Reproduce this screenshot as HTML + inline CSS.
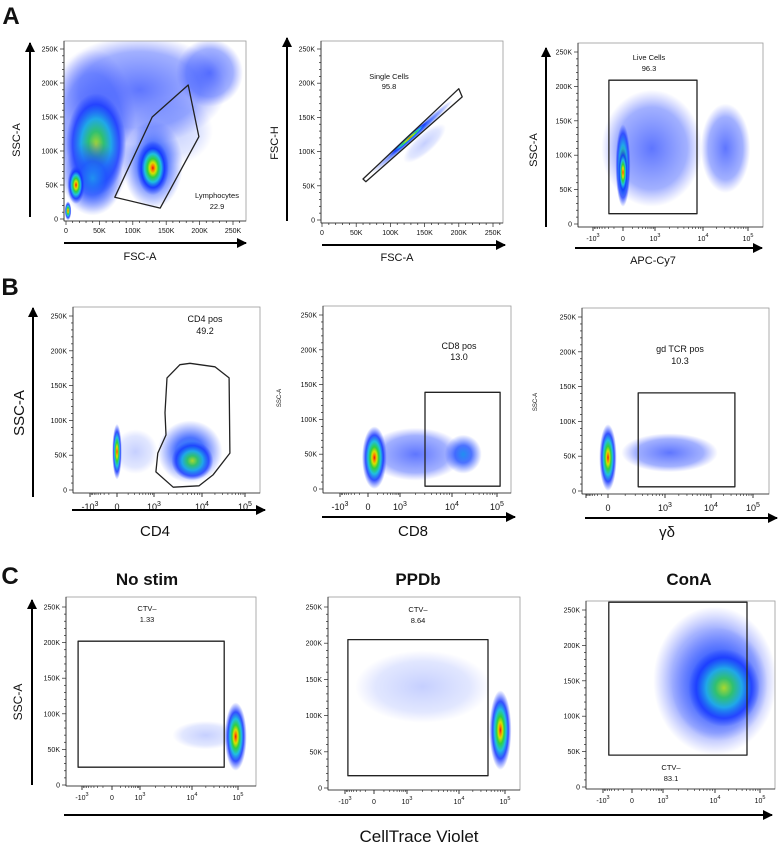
<!DOCTYPE html>
<html><head><meta charset="utf-8"><style>
html,body{margin:0;padding:0;background:#fff;}
svg{display:block;font-family:"Liberation Sans",sans-serif;}
</style></head><body>
<svg id="fig" width="778" height="844" viewBox="0 0 778 844" xmlns="http://www.w3.org/2000/svg">
<defs>
<radialGradient id="g-hot"><stop offset="0" stop-color="#e01010"/><stop offset="0.09" stop-color="#ff7a00"/><stop offset="0.2" stop-color="#d8e000"/><stop offset="0.34" stop-color="#30d040"/><stop offset="0.52" stop-color="#20c0e0"/><stop offset="0.72" stop-color="#1030ff" stop-opacity="0.85"/><stop offset="1" stop-color="#2040ff" stop-opacity="0"/></radialGradient>
<radialGradient id="g-warm"><stop offset="0" stop-color="#a8d830"/><stop offset="0.25" stop-color="#30c070"/><stop offset="0.5" stop-color="#20a8e8"/><stop offset="0.78" stop-color="#1838ff" stop-opacity="0.8"/><stop offset="1" stop-color="#2040ff" stop-opacity="0"/></radialGradient>
<radialGradient id="g-cool"><stop offset="0" stop-color="#2090f0"/><stop offset="0.45" stop-color="#2050ff" stop-opacity="0.8"/><stop offset="1" stop-color="#3050ff" stop-opacity="0"/></radialGradient>
<radialGradient id="g-haze"><stop offset="0" stop-color="#2040ff" stop-opacity="0.72"/><stop offset="0.7" stop-color="#3050ff" stop-opacity="0.45"/><stop offset="1" stop-color="#5060ff" stop-opacity="0"/></radialGradient>
<radialGradient id="g-sparse"><stop offset="0" stop-color="#4060ff" stop-opacity="0.3"/><stop offset="0.7" stop-color="#5070ff" stop-opacity="0.17"/><stop offset="1" stop-color="#6070ff" stop-opacity="0"/></radialGradient>
<marker id="arr" viewBox="0 0 10 10" refX="9" refY="5" markerWidth="5" markerHeight="5" orient="auto"><path d="M0,0 L10,5 L0,10 z" fill="#000"/></marker>
</defs>
<g id="root"></g>
</svg>
<script>
// ---- data: populations [x, y, spreadX, spreadY, density, angle] ; gates in data coords ----
const popsA1 = [[110,190,130,80,'haze',0],[40,130,65,120,'haze',0],[215,215,50,50,'haze',0],[160,130,60,50,'sparse',0],[45,110,45,75,'warm',0],[40,60,45,55,'cool',0],[15,50,13,28,'hot',0],[3,12,5,14,'hot',0],[130,80,45,65,'cool',0],[130,75,24,40,'hot',0]];
const gateA1 = [[73,32],[129,150],[183,197],[199,121],[141,16]];
const popsA2 = [[150,112,40,14,'sparse',-42],[132,122,80,6,'cool',-42],[128,120,40,3.5,'hot',-42]];
const gateA2 = [[60,60],[200,192],[205,180],[64,56]];
const popsA3 = [[0.9,110,1.3,85,'haze',0],[2.5,110,0.55,65,'haze',0],[0,85,0.24,60,'warm',0],[0,75,0.16,35,'hot',0]];
const gateA3 = [[-0.47,209],[1.875,209],[1.875,15],[-0.47,15]];
const popsB1 = [[0.5,55,0.6,32,'sparse',0],[0,55,0.15,40,'hot',0],[1.75,55,0.7,45,'cool',0],[1.8,42,0.45,28,'warm',0]];
const gateB1 = [[1.27,161],[1.54,180],[1.75,182],[2.30,177],[2.63,161],[2.65,53],[2.26,22],[1.94,6],[1.40,4],[1.04,26],[1.08,53],[1.25,79],[1.23,111]];
const popsB2 = [[1.3,50,1.1,38,'haze',0],[2.25,50,0.4,28,'cool',0],[0.2,45,0.4,45,'hot',0]];
const gateB2 = [[1.48,139],[3.07,139],[3.07,4],[1.48,4]];
const popsB3 = [[1.1,55,0.95,28,'haze',0],[0,48,0.22,48,'hot',0]];
const gateB3 = [[0.53,141],[2.57,141],[2.57,6],[0.53,6]];
const popsC1 = [[2.3,70,0.7,20,'sparse',0],[2.95,68,0.24,48,'hot',0]];
const gateC1 = [[-1.13,202],[2.7,202],[2.7,25],[-1.13,25]];
const popsC2 = [[1.3,140,1.6,50,'sparse',0],[2.9,80,0.24,55,'hot',0]];
const gateC2 = [[-0.9,205],[2.63,205],[2.63,17],[-0.9,17]];
const popsC3 = [[2.0,150,1.35,105,'haze',0],[2.1,145,1.0,80,'cool',0],[2.2,140,0.75,55,'warm',0]];
const gateC3 = [[-0.8,261],[2.71,261],[2.71,45],[-0.8,45]];
const linTicks = [0,50,100,150,200,250];
const linLabels = ['0','50K','100K','150K','200K','250K'];
const logTicks = [-1,0,1,2,3];
const logLabels = [['-10','3'],['0',''],['10','3'],['10','4'],['10','5']];

const NS='http://www.w3.org/2000/svg';
const root=document.getElementById('root');
function el(tag,attrs,parent){const e=document.createElementNS(NS,tag);for(const k in attrs)e.setAttribute(k,attrs[k]);(parent||root).appendChild(e);return e;}
function txt(parent,x,y,s,size,anchor,weight,name){const t=el('text',{x:x,y:y,'font-size':size,'text-anchor':anchor||'middle','font-weight':weight||'normal',fill:'#111'},parent);t.textContent=s;


return t;}

function panel(p,pops,gate,gateKind,name){
  const g=el('g',{});
  
  
  const ys=v=>p.y0+(p.y250-p.y0)*v/250;
  let xs;
  if(p.lin){xs=v=>p.x0+(p.x250-p.x0)*v/250;}
  else{const t=p.xt;xs=d=>{let i=Math.floor(d)+1;if(i<0)i=0;if(i>3)i=3;return t[i]+(t[i+1]-t[i])*(d-(i-1));};}
  const cp='clip-'+name;
  const c=el('clipPath',{id:cp},g);el('rect',{x:p.L,y:p.T,width:p.R-p.L,height:p.B-p.T},c);
  const dg=el('g',{'clip-path':'url(#'+cp+')'},g);
  
  
  pops.forEach(q=>{
    const cx=xs(q[0]),cy=ys(q[1]);
    const rx=Math.abs(xs(q[0]+q[2])-xs(q[0]-q[2]))/2, ry=Math.abs(ys(q[1]+q[3])-ys(q[1]-q[3]))/2;
    const e=el('ellipse',{cx:cx,cy:cy,rx:rx,ry:ry,fill:'url(#g-'+q[4]+')',transform:'rotate('+q[5]+' '+cx+' '+cy+')'},dg);
    
    
  });
  el('rect',{x:p.L,y:p.T,width:p.R-p.L,height:p.B-p.T,fill:'none',stroke:'#999','stroke-width':0.8},g);
  for(let v=0;v<=250;v+=10){const y=ys(v);el('line',{x1:p.L-(v%50?2:4),x2:p.L,y1:y,y2:y,stroke:'#222','stroke-width':0.7},g);}
  linTicks.forEach((v,i)=>txt(g,p.L-6,ys(v)+2.5,linLabels[i],7,'end','normal','y-tick-label'));
  el('line',{x1:p.L,x2:p.L,y1:p.T,y2:p.B,stroke:'#222','stroke-width':0.8},g);
  el('line',{x1:p.L,x2:p.R,y1:p.B,y2:p.B,stroke:'#222','stroke-width':0.8},g);
  if(p.lin){
    for(let v=0;v<=260;v+=10){const x=xs(v);if(x>p.R)break;el('line',{x1:x,x2:x,y1:p.B,y2:p.B+(v%50?2:4),stroke:'#222','stroke-width':0.7},g);}
    linTicks.forEach((v,i)=>txt(g,xs(v),p.B+12,linLabels[i],7,'middle','normal','x-tick-label'));
  } else {
    for(let d=-1;d<3;d++){for(let k=2;k<=9;k++){const f=Math.log10(k);const x=d<0?xs(0)-(xs(0)-xs(-1))*f:xs(d+f);el('line',{x1:x,x2:x,y1:p.B,y2:p.B+2,stroke:'#222','stroke-width':0.6},g);}}
    logTicks.forEach((d,i)=>{const x=xs(d);el('line',{x1:x,x2:x,y1:p.B,y2:p.B+4,stroke:'#222','stroke-width':0.9},g);
      if(p.skipNeg&&d<0)return;const L=logLabels[i];const t=txt(g,x,p.B+(p.big?17:14),L[0],p.big?9:7,'middle','normal','x-tick-label');
      if(L[1]){const s=el('tspan',{'font-size':p.big?7:5.5,dy:-4},t);s.textContent=L[1];}});
  }
  const pts=gate.map(q=>xs(q[0]).toFixed(1)+','+ys(q[1]).toFixed(1)).join(' ');
  const gp=el('polygon',{points:pts,fill:'none',stroke:'#222','stroke-width':1.3,'stroke-linejoin':'round'},g);
  
  
  return g;
}

function arrowV(x,y1,y2,name){const l=el('line',{x1:x,x2:x,y1:y1,y2:y2,stroke:'#000','stroke-width':2,'marker-end':'url(#arr)'});

}
function arrowH(y,x1,x2,name){const l=el('line',{x1:x1,x2:x2,y1:y,y2:y,stroke:'#000','stroke-width':2,'marker-end':'url(#arr)'});

}
function vtext(x,y,s,size,name){const t=el('text',{x:0,y:0,'font-size':size,'text-anchor':'middle',fill:'#111',transform:'translate('+x+','+y+') rotate(-90)'});t.textContent=s;

}

txt(root,11,24,'A',24,'middle','bold','panel-letter-a');
txt(root,10,295,'B',24,'middle','bold','panel-letter-b');
txt(root,10,584,'C',24,'middle','bold','panel-letter-c');

const gA1=panel({L:64,T:41,R:246,B:221,lin:true,x0:66,x250:233,y0:219,y250:49},popsA1,gateA1,'lymphocyte-gate','plot-fsc-ssc');
txt(gA1,217,198,'Lymphocytes',7.5,'middle','normal','gate-name');txt(gA1,217,209,'22.9',7.5,'middle','normal','gate-percent');
arrowV(30,217,43,'y-axis-arrow');arrowH(243,64,246,'x-axis-arrow');
vtext(20,140,'SSC-A',11,'y-axis-title');txt(root,140,260,'FSC-A',11,'middle','normal','x-axis-title');
const gA2=panel({L:321,T:41,R:503,B:223,lin:true,x0:322,x250:493,y0:220,y250:49},popsA2,gateA2,'single-cells-gate','plot-singlets');
txt(gA2,389,79,'Single Cells',7.5,'middle','normal','gate-name');txt(gA2,389,89,'95.8',7.5,'middle','normal','gate-percent');
arrowV(287,221,38,'y-axis-arrow');arrowH(245,322,505,'x-axis-arrow');
vtext(278,143,'FSC-H',11,'y-axis-title');txt(root,397,261,'FSC-A',11,'middle','normal','x-axis-title');
const gA3=panel({L:578,T:43,R:763,B:227,lin:false,xt:[593,623,655,703,748],y0:224,y250:52},popsA3,gateA3,'live-cells-gate','plot-viability');
txt(gA3,649,60,'Live Cells',7.5,'middle','normal','gate-name');txt(gA3,649,71,'96.3',7.5,'middle','normal','gate-percent');
arrowV(546,227,48,'y-axis-arrow');arrowH(248,575,762,'x-axis-arrow');
vtext(537,150,'SSC-A',11,'y-axis-title');txt(root,653,264,'APC-Cy7',11,'middle','normal','x-axis-title');

const gB1=panel({L:73,T:307,R:260,B:493,lin:false,big:true,xt:[90,117,154,202,245],y0:490,y250:316},popsB1,gateB1,'cd4-pos-gate','plot-cd4');
txt(gB1,205,322,'CD4 pos',9,'middle','normal','gate-name');txt(gB1,205,334,'49.2',9,'middle','normal','gate-percent');
arrowV(33,497,308,'y-axis-arrow');arrowH(510,72,265,'x-axis-arrow');
vtext(24,413,'SSC-A',15,'y-axis-title');txt(root,155,536,'CD4',15,'middle','normal','x-axis-title');
const gB2=panel({L:323,T:306,R:511,B:493,lin:false,big:true,xt:[340,368,400,452,497],y0:489,y250:315},popsB2,gateB2,'cd8-pos-gate','plot-cd8');
txt(gB2,459,349,'CD8 pos',9,'middle','normal','gate-name');txt(gB2,459,360,'13.0',9,'middle','normal','gate-percent');
arrowH(517,322,515,'x-axis-arrow');
vtext(281,398,'SSC-A',6,'y-axis-title');txt(root,413,536,'CD8',15,'middle','normal','x-axis-title');
const gB3=panel({L:582,T:308,R:769,B:494,lin:false,big:true,skipNeg:true,xt:[586,608,665,711,753],y0:491,y250:317},popsB3,gateB3,'gd-tcr-pos-gate','plot-gd-tcr');
txt(gB3,680,352,'gd TCR pos',9,'middle','normal','gate-name');txt(gB3,680,364,'10.3',9,'middle','normal','gate-percent');
arrowH(518,585,777,'x-axis-arrow');
vtext(537,402,'SSC-A',6,'y-axis-title');txt(root,667,537,'γδ',15,'middle','normal','x-axis-title');

txt(root,147,585,'No stim',17,'middle','bold','condition-title-no-stim');
txt(root,418,585,'PPDb',17,'middle','bold','condition-title-ppdb');
txt(root,689,585,'ConA',17,'middle','bold','condition-title-cona');
const gC1=panel({L:66,T:597,R:256,B:786,lin:false,xt:[82,112,140,192,238],y0:785,y250:607},popsC1,gateC1,'ctv-neg-gate','plot-no-stim');
txt(gC1,147,611,'CTV–',7.5,'middle','normal','gate-name');txt(gC1,147,622,'1.33',7.5,'middle','normal','gate-percent');
const gC2=panel({L:328,T:597,R:520,B:790,lin:false,xt:[345,374,407,459,505],y0:788,y250:607},popsC2,gateC2,'ctv-neg-gate','plot-ppdb');
txt(gC2,418,612,'CTV–',7.5,'middle','normal','gate-name');txt(gC2,418,623,'8.64',7.5,'middle','normal','gate-percent');
const gC3=panel({L:586,T:601,R:775,B:789,lin:false,xt:[603,632,663,715,760],y0:787,y250:610},popsC3,gateC3,'ctv-neg-gate','plot-cona');
txt(gC3,671,770,'CTV–',7.5,'middle','normal','gate-name');txt(gC3,671,781,'83.1',7.5,'middle','normal','gate-percent');
arrowV(32,785,600,'y-axis-arrow');
vtext(22,702,'SSC-A',12,'y-axis-title');
arrowH(815,64,772,'shared-x-axis-arrow');
txt(root,419,842,'CellTrace Violet',17,'middle','normal','x-axis-title');
</script>
</body></html>
